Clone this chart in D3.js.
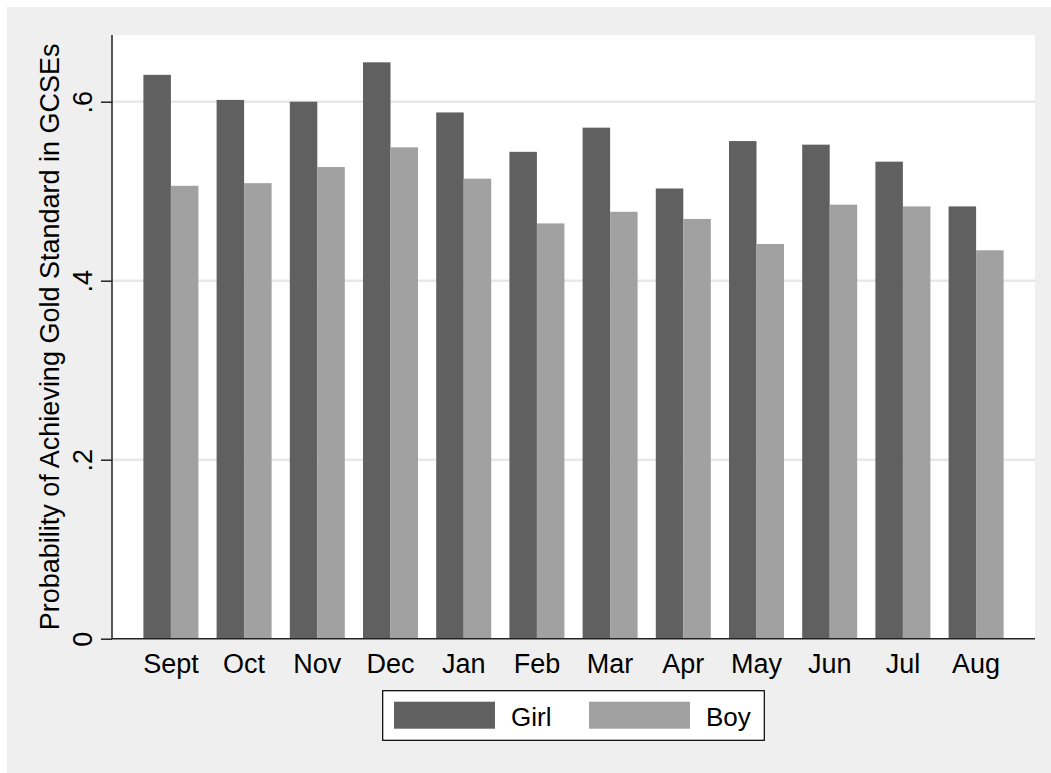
<!doctype html>
<html lang="en">
  <head>
    <meta charset="utf-8">
    <title>GCSE gold standard by birth month</title>
    <script src="https://d3js.org/d3.v7.min.js"></script>
    <style>
        body { margin: 0; background: #fff; }
        svg text { font-family: Arial, "Liberation Sans", Helvetica, sans-serif; fill: #000; }
    </style>
  </head>

  <body>
    <svg></svg>

    <script>
      var months = ["Sept", "Oct", "Nov", "Dec", "Jan", "Feb", "Mar", "Apr", "May", "Jun", "Jul", "Aug"];
      var girl = [0.630, 0.602, 0.600, 0.644, 0.588, 0.544, 0.571, 0.503, 0.556, 0.552, 0.533, 0.483];
      var boy  = [0.506, 0.509, 0.527, 0.549, 0.514, 0.464, 0.477, 0.469, 0.441, 0.485, 0.483, 0.434];
      var yTicks = [0, 0.2, 0.4, 0.6];
      var seriesNames = ["Girl", "Boy"];
      var colors = ["#606060", "#a1a1a1"];

      var W = 1051, H = 773;
      // plot region edges (no "top": that name is taken by window.top)
      var pLeft = 112, pRight = 1035, pTop = 35, pBottom = 638.7;

      var svg = d3.select("svg")
        .attr("width", W)
        .attr("height", H);

      // outer gray region and white plot region
      svg.append("rect").attr("x", 7).attr("y", 7).attr("width", W - 7).attr("height", H - 7)
        .attr("fill", "#efefef");
      svg.append("rect").attr("x", pLeft).attr("y", pTop).attr("width", pRight - pLeft).attr("height", pBottom - pTop)
        .attr("fill", "#fff");

      var x = d3.scaleBand().domain(months).range([pLeft, pRight])
        .paddingInner(0.2486).paddingOuter(0.429);
      var xs = d3.scaleBand().domain(seriesNames).range([0, x.bandwidth()]);
      var y = d3.scaleLinear().domain([0, 0.6]).range([pBottom, pBottom - 0.6 * 895]);

      // gridlines
      svg.selectAll(".grid").data(yTicks.filter(function(d){ return d > 0; })).enter()
        .append("line")
        .attr("class", "grid")
        .attr("x1", pLeft).attr("x2", pRight)
        .attr("y1", function(d){ return y(d); })
        .attr("y2", function(d){ return y(d); })
        .attr("stroke", "#e8e8e8")
        .attr("stroke-width", 2.5);

      var data = [girl, boy];
      data.forEach(function(vals, s){
        svg.selectAll(".bar" + s).data(vals).enter()
          .append("rect")
          .attr("class", "bar" + s)
          .attr("fill", colors[s])
          .attr("x", function(d, i){ return x(months[i]) + xs(seriesNames[s]); })
          .attr("width", xs.bandwidth())
          .attr("y", function(d){ return y(d); })
          .attr("height", function(d){ return y(0) - y(d); });
      });

      // y axis
      var yAxis = svg.append("g")
        .attr("transform", "translate(" + pLeft + ",0)")
        .call(d3.axisLeft(y).tickValues(yTicks).tickSize(11)
          .tickFormat(function(d){ return d === 0 ? "0" : d3.format(".1f")(d).replace(/^0/, ""); }));
      yAxis.select(".domain").attr("d", "M0," + pTop + "V" + pBottom).attr("stroke", "#222").attr("stroke-width", 1.5);
      yAxis.selectAll(".tick line").attr("stroke", "#222").attr("stroke-width", 1.5);
      yAxis.selectAll(".tick text")
        .attr("x", null).attr("dy", null)
        .attr("transform", "translate(-20,0) rotate(-90)")
        .attr("text-anchor", "middle")
        .style("font-size", "27px");

      // x axis
      var xAxis = svg.append("g")
        .attr("transform", "translate(0," + pBottom + ")")
        .call(d3.axisBottom(x).tickSize(0).tickPadding(0));
      xAxis.select(".domain").attr("d", "M" + pLeft + ",0H" + pRight).attr("stroke", "#222").attr("stroke-width", 1.5);
      xAxis.selectAll(".tick text")
        .attr("y", 34).attr("dy", null)
        .style("font-size", "27px");

      // y title
      svg.append("text")
        .attr("transform", "translate(59," + ((pTop + pBottom) / 2) + ") rotate(-90)")
        .attr("text-anchor", "middle")
        .style("font-size", "27px")
        .text("Probability of Achieving Gold Standard in GCSEs");

      // legend
      var legend = svg.append("g");
      legend.append("rect")
        .attr("x", 382.7).attr("y", 690.7).attr("width", 381.6).attr("height", 49.6)
        .attr("fill", "#fff").attr("stroke", "#000").attr("stroke-width", 1.2);
      var lx = [394, 589];
      seriesNames.forEach(function(name, i){
        legend.append("rect")
          .attr("x", lx[i]).attr("y", 701.7).attr("width", 101).attr("height", 27)
          .attr("fill", colors[i]);
        legend.append("text")
          .attr("x", lx[i] + 117).attr("y", 725.5)
          .style("font-size", "26px")
          .text(name);
      });
    </script>
  </body>
</html>
